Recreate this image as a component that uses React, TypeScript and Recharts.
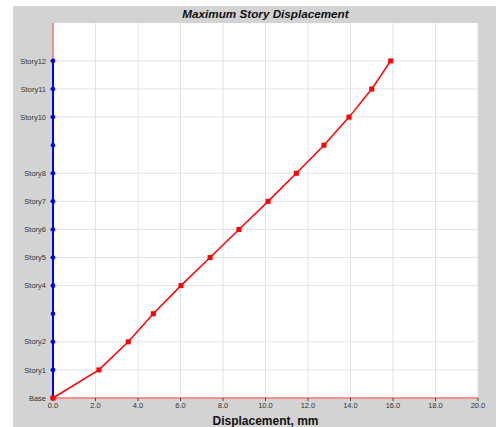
import React from 'react';
import { ComposedChart, Line, XAxis, YAxis, CartesianGrid, Label, ReferenceLine } from 'recharts';

// story levels, bottom to top
const stories = ['Base', 'Story1', 'Story2', 'Story3', 'Story4', 'Story5', 'Story6', 'Story7', 'Story8', 'Story9', 'Story10', 'Story11', 'Story12'];
// levels that get a label / grid line (Story3 and Story9 are not labelled in the plot)
const labelledLevels = [0, 1, 2, 4, 5, 6, 7, 8, 10, 11, 12];
const xTicks = [0, 2, 4, 6, 8, 10, 12, 14, 16, 18, 20];
const yTop = 13.35;

// displacement, mm
const dispX = [0, 2.16, 3.54, 4.72, 6.02, 7.39, 8.75, 10.12, 11.45, 12.75, 13.93, 15.0, 15.89];
const dispY = [0, 0, 0, 0, 0, 0, 0, 0, 0, 0, 0, 0, 0];

const redData = stories.map((s, i) => ({ story: s, level: i, disp: dispX[i] }));
const blueData = stories.map((s, i) => ({ story: s, level: i, disp: dispY[i] }));

const tickStyle = { fill: '#333', fontSize: 7.5, fontFamily: 'Liberation Sans, Arial, sans-serif' };

const RedSquare = (props: any) => {
  const { cx, cy, index } = props;
  return <rect key={`r-${index}`} x={cx - 2.5} y={cy - 2.5} width={5} height={5} fill="#ff0000" />;
};

const BlueDot = (props: any) => {
  const { cx, cy, index } = props;
  return <circle key={`b-${index}`} cx={cx} cy={cy} r={2.3} fill="#0000ff" />;
};

export default function App() {
  return (
    <div style={{ position: 'fixed', left: 0, top: 0, width: 500, height: 427, background: '#fff' }}>
      <div style={{ position: 'absolute', left: 13, top: 6, width: 483, height: 421, background: '#d3d3d3' }} />
      <div
        style={{
          position: 'absolute',
          left: 0,
          top: 6,
          width: 531,
          textAlign: 'center',
          fontFamily: 'Liberation Sans, Arial, sans-serif',
          fontWeight: 'bold',
          fontStyle: 'italic',
          fontSize: 11.7,
          lineHeight: '15px',
          color: '#111',
        }}
      >
        Maximum Story Displacement
      </div>
      <div style={{ position: 'absolute', left: 0, top: 0 }}>
        <ComposedChart width={500} height={427} margin={{ top: 23, right: 22, bottom: 0, left: 8 }}>
          <CartesianGrid stroke="#e2e2e2" fill="#ffffff" horizontalValues={labelledLevels} />
          <XAxis
            type="number"
            dataKey="disp"
            domain={[0, 20]}
            ticks={xTicks}
            tickFormatter={(v: number) => v.toFixed(1)}
            tick={tickStyle}
            tickSize={3}
            tickLine={{ stroke: '#444' }}
            axisLine={{ stroke: '#ff7070', strokeWidth: 1.5 }}
            height={29}
          >
            <Label
              value="Displacement, mm"
              position="insideBottom"
              offset={2}
              style={{ fill: '#111', fontSize: 12, fontWeight: 'bold', fontFamily: 'Liberation Sans, Arial, sans-serif' }}
            />
          </XAxis>
          <YAxis
            type="number"
            dataKey="level"
            domain={[0, yTop]}
            ticks={labelledLevels}
            tickFormatter={(v: number) => stories[v]}
            tick={tickStyle}
            tickSize={3}
            tickMargin={4}
            tickLine={{ stroke: '#444' }}
            axisLine={false}
            width={45}
          />
          <ReferenceLine
            segment={[{ x: 0, y: 12 }, { x: 0, y: yTop }]}
            stroke="#ff5050"
            strokeWidth={1.2}
          />
          <Line
            data={blueData}
            dataKey="level"
            type="linear"
            stroke="#0000ff"
            strokeWidth={2}
            dot={BlueDot}
            isAnimationActive={false}
          />
          <Line
            data={redData}
            dataKey="level"
            type="linear"
            stroke="#ff0000"
            strokeWidth={1.5}
            dot={RedSquare}
            isAnimationActive={false}
          />
        </ComposedChart>
      </div>
    </div>
  );
}
